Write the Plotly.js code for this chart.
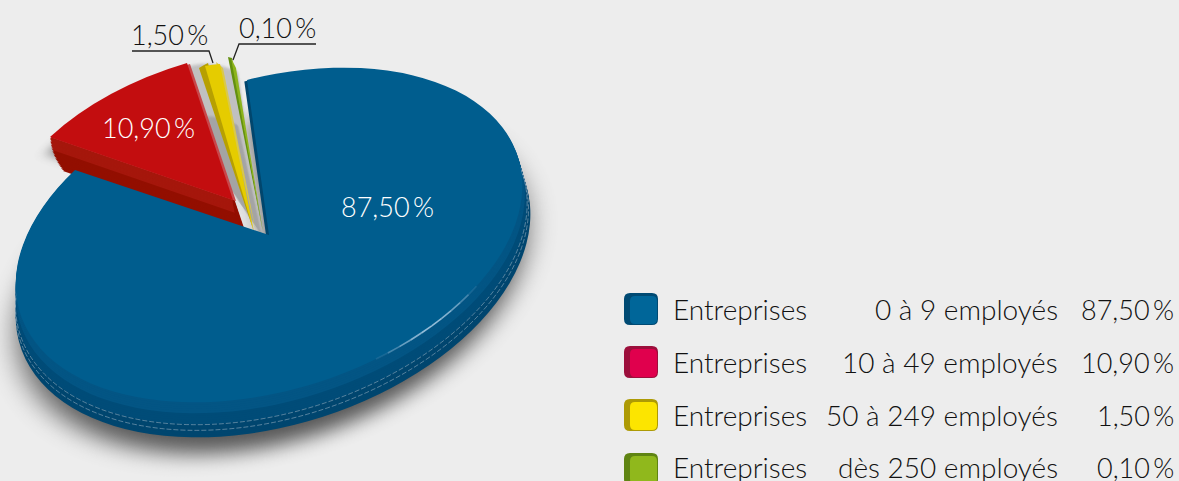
<!DOCTYPE html>
<html><head><meta charset="utf-8">
<script src="https://cdn.plot.ly/plotly-3.0.1.min.js"></script>
<style>html,body{margin:0;padding:0;background:#ededed;overflow:hidden}#c{width:1179px;height:481px}</style>
</head><body><div id="c"></div>
<script>
// ---- data ----
const categories = ['Entreprises','Entreprises','Entreprises','Entreprises'];
const sizes = ['0 à 9 employés','10 à 49 employés','50 à 249 employés','dès 250 employés'];
const values = [87.5,10.9,1.5,0.1];
const valueLabels = ['87,50\u2009%','10,90\u2009%','1,50\u2009%','0,10\u2009%'];
const legendColors = ['#006699','#e0004d','#fce500','#90b81c'];
const legendDark = ['#004a73','#9c0f3c','#ad9a05','#5f8412'];

// ---- layout helpers ----
const W=1179,H=481,R=200,CX=200,CY=240.5;
const FONT='Lato Light, Lato, sans-serif';
const px=x=>x/W, py=y=>1-y/H;
const total=values.reduce((a,b)=>a+b,0);
const cum=[0]; values.forEach((v,i)=>cum.push(cum[i]+v));
const ang=i=>cum[i]/total*2*Math.PI;
const e=t=>[Math.sin(t),-Math.cos(t)];
// affine placement of a slice: apex + two rim points (perspective view of a flat pie)
function place(i,apex,t1,t2){
  const a=e(ang(i)),b=e(ang(i+1));
  const v1=[t1[0]-apex[0],t1[1]-apex[1]],v2=[t2[0]-apex[0],t2[1]-apex[1]];
  const d=a[0]*b[1]-b[0]*a[1];
  const I=[[b[1]/d,-b[0]/d],[-a[1]/d,a[0]/d]];
  return {apex,m:[v1[0]*I[0][0]+v2[0]*I[1][0],v1[0]*I[0][1]+v2[0]*I[1][1],
                  v1[1]*I[0][0]+v2[1]*I[1][0],v1[1]*I[0][1]+v2[1]*I[1][1]]};
}
const blue=place(0,[269,235],[247,80],[75,170]);
const red=place(1,[233,200],[187,63],[50,137]);
const yelF=place(2,[254,232],[220,64],[205,66]);
const yelW=place(2,[254,232],[208,63],[199,68]);
const yelL=place(2,[256,232],[223,68],[216,62]);
const grnF=place(3,[263,232],[236,68],[231,58]);
const grnW=place(3,[263,232],[232,58],[228,57]);

const layers=[];
function add(i,geo,color,o={}){layers.push(Object.assign({i,geo,color,dx:0,dy:0,sx:1,sy:1},o));}
// soft ground shadows
add(0,blue,'#333333',{dx:3,dy:45,sx:1.0,sy:1.04,filter:'blur(12px)',opacity:.8});
add(1,red,'#4a4a4a',{dx:-3,dy:16,filter:'blur(6px)',opacity:.7});
// grey gap behind the two thin slices
add(1,place(1,[262,236],[238,72],[172,76]),'#c0c0c0',{filter:'blur(2px)'});
add(1,place(1,[262,236],[238,125],[186,122]),'#a4a4a4',{filter:'blur(2px)'});
add(3,grnW,'#63900f'); add(3,grnF,'#8db41c');
add(2,yelL,'#d9c84a'); add(2,yelW,'#b7a000'); add(2,yelF,'#e5cc00');
// red extrusion
for(let k=24;k>=1;k--){const f=k/24; add(1,red,f>.4?'#930f00':'#a5170c',{dx:13*f*f,dy:34*f});}
add(1,red,'#c8474a',{dx:3,dy:1});
add(1,red,'#c30d0f');
// blue extrusion
for(let k=16;k>=1;k--){
  const c=k>10?'#00466f':k>5?'#004c78':'#035584';
  add(0,blue,c,{dx:4*k/16,dy:30*k/16,sx:1+.016*k/16,sy:1+.03*k/16});
}
add(0,blue,null,{dx:2.3,dy:19,sx:1.01,sy:1.02,line:'rgba(190,205,215,.45)'});
add(0,blue,null,{dx:2.9,dy:24,sx:1.013,sy:1.024,line:'rgba(190,205,215,.45)'});
add(0,blue,'#01466d',{dx:-3,dy:0,sx:.985,sy:.99});
add(0,blue,'#005d8e');

const traces=[]; let css='';
layers.forEach((l,n)=>{
  const colors=values.map((_,j)=>j===l.i&&l.color?l.color:'rgba(0,0,0,0)');
  const lc=values.map((_,j)=>j===l.i&&l.line?l.line:'rgba(0,0,0,0)');
  const lw=values.map((_,j)=>j===l.i&&l.line?1:0);
  traces.push({type:'pie',values,labels:sizes,sort:false,direction:'clockwise',rotation:0,
    textinfo:'none',hoverinfo:'skip',showlegend:false,opacity:l.opacity===undefined?1:l.opacity,
    marker:{colors,line:{color:lc,width:lw}},
    domain:{x:[(CX-R)/W,(CX+R)/W],y:[1-(CY+R)/H,1-(CY-R)/H]}});
  const m=l.geo.m,a=m[0]*l.sx/R,c=m[1]*l.sx/R,b=m[2]*l.sy/R,d=m[3]*l.sy/R;
  const ax=l.geo.apex[0]+l.dx,ay=l.geo.apex[1]+l.dy;
  const ex=ax-(a*CX+c*CY),ey=ay-(b*CX+d*CY);
  css+=`.pielayer>g.trace:nth-child(${n+1}){transform:matrix(${a},${b},${c},${d},${ex},${ey});transform-origin:0 0;`+
       (l.filter?`filter:${l.filter};`:'')+`}\n`;
  if(l.line) css+=`.pielayer>g.trace:nth-child(${n+1}) path{vector-effect:non-scaling-stroke;stroke-dasharray:5 2;}\n`;
});
const st=document.createElement('style');st.textContent=css;document.head.appendChild(st);

// ---- text and legend ----
const ann=[]; const shapes=[];
function text(s,x,y,anchor,color,size){ann.push({text:s,x:px(x),y:py(y),xref:'paper',yref:'paper',xanchor:anchor,yanchor:'middle',showarrow:false,
  font:{family:FONT,size:size||28,color:color||'#111',weight:300},borderpad:0,borderwidth:0});}
const rowY=[309,362,415,467];
const swatchY=[309,362,415,469];
function rpath(x0,y0,x1,y1,r){
  const P=(x,y)=>`${x},${y}`;
  return `M${P(x0+r,y0)} L${P(x1-r,y0)} Q${P(x1,y0)} ${P(x1,y0+r)} L${P(x1,y1-r)} Q${P(x1,y1)} ${P(x1-r,y1)} L${P(x0+r,y1)} Q${P(x0,y1)} ${P(x0,y1-r)} L${P(x0,y0+r)} Q${P(x0,y0)} ${P(x0+r,y0)} Z`;
}
function pathShape(path,fill){shapes.push({type:'path',path,xref:'x',yref:'y',fillcolor:fill,line:{width:0}});}
values.forEach((v,i)=>{
  const y=rowY[i],s=swatchY[i];
  pathShape(rpath(624,s-16,658,s+16,6),legendDark[i]);
  pathShape(rpath(630,s-13,657,s+15,5),legendColors[i]);
  text(categories[i],673,y,'left');
  text(sizes[i],1058,y,'right');
  text(valueLabels[i],1174,y,'right','#111',27);
});
text(valueLabels[0],387,206,'center','#ffffff',27);
text(valueLabels[1],148,127,'center','#ffffff',27);
text(valueLabels[2],169,34,'center','#111',27);
text(valueLabels[3],277,27,'center','#111',27);
function seg(pts){shapes.push({type:'path',path:'M'+pts.map(p=>p.join(',')).join(' L'),xref:'x',yref:'y',line:{color:'#222',width:1.3},fillcolor:'rgba(0,0,0,0)'});}
seg([[132,51],[209,51],[213,63]]);
seg([[316,44],[239,44],[233,60]]);
// rim highlight along the lower-right edge of the top face, fading at both ends
const rim=t=>{const u=e(t*Math.PI/180),m=blue.m;return [+(blue.apex[0]+m[0]*u[0]+m[1]*u[1]).toFixed(2),+(blue.apex[1]+m[2]*u[0]+m[3]*u[1]).toFixed(2)];};
const hN=10;
for(let k=0;k<hN;k++){
  const t0=130+k*3,al=(.9*Math.sin(Math.PI*(k+.5)/hN)).toFixed(2);
  const p=rim(t0),r=rim(t0+3);
  shapes.push({type:'line',x0:p[0],y0:p[1],x1:r[0],y1:r[1],xref:'x',yref:'y',
    line:{color:`rgba(165,200,225,${al})`,width:1.6}});
}

Plotly.newPlot('c',traces,{
  width:W,height:H,margin:{l:0,r:0,t:0,b:0},paper_bgcolor:'#ededed',plot_bgcolor:'rgba(0,0,0,0)',
  showlegend:false,
  xaxis:{range:[0,W],visible:false,fixedrange:true,domain:[0,1]},
  yaxis:{range:[H,0],visible:false,fixedrange:true,domain:[0,1]},
  annotations:ann,shapes
},{displayModeBar:false,staticPlot:true});
</script></body></html>
